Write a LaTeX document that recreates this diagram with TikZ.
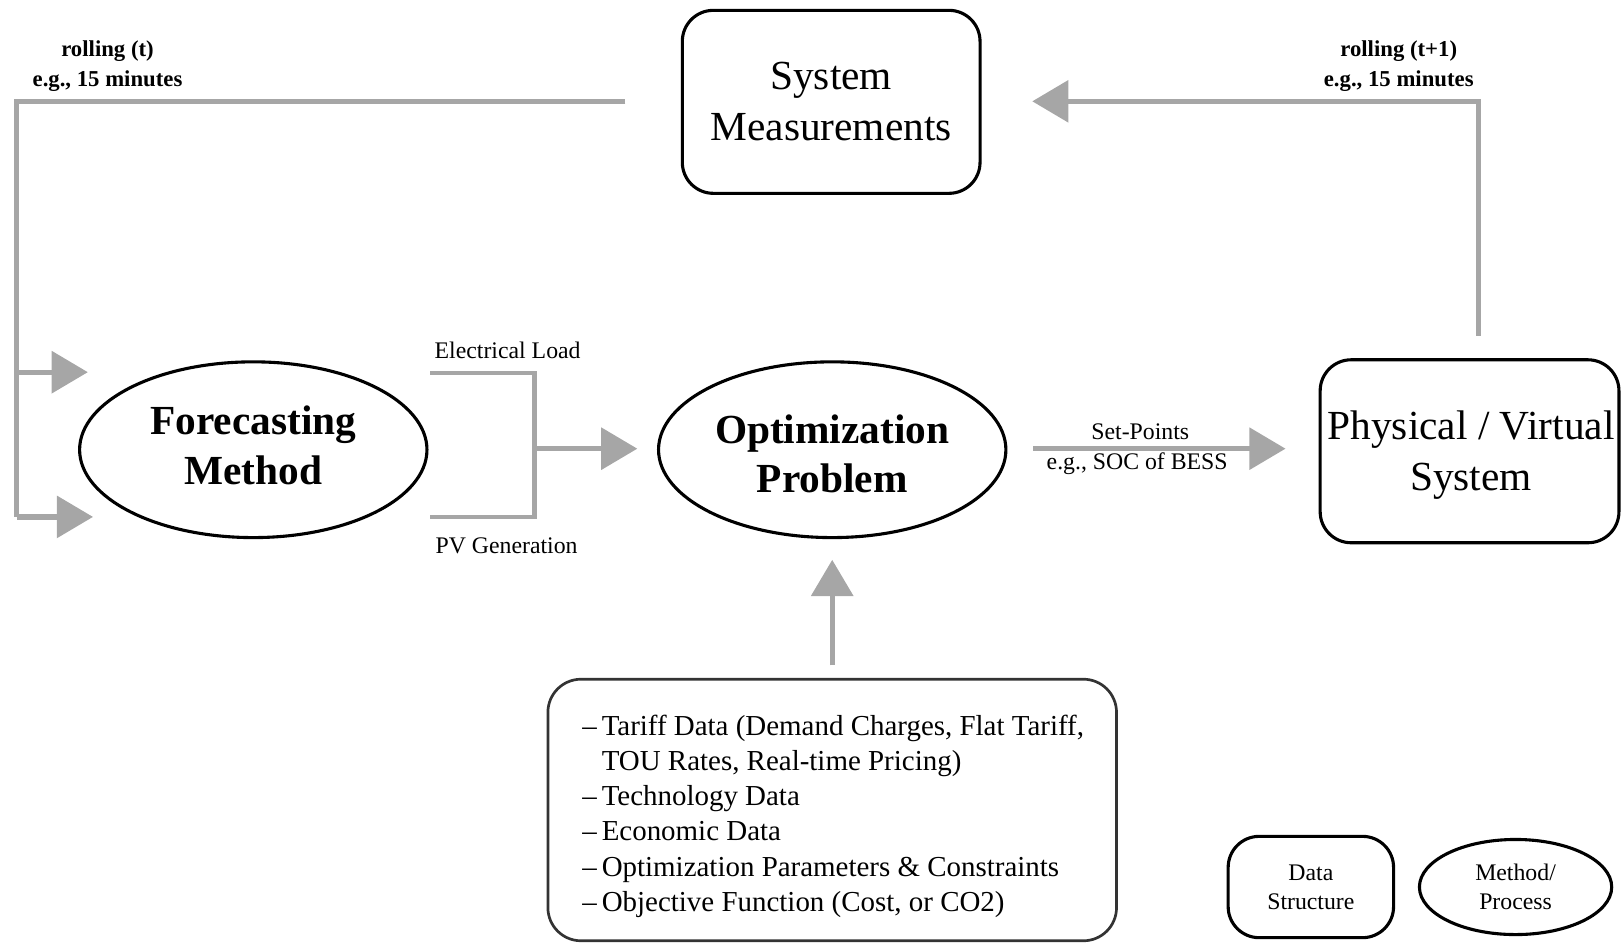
\documentclass[tikz,border=0pt]{standalone}
\usepackage{fontspec}
\setmainfont{Liberation Serif}
\usetikzlibrary{arrows.meta,shapes.geometric}
\definecolor{lineg}{RGB}{166,166,166}
\begin{document}
\begin{tikzpicture}[x=0.5pt,y=-0.5pt,
  gline/.style={draw=lineg,line width=2.5pt},
  thinline/.style={draw=lineg,line width=2pt},
  garrow/.style={gline,-{Triangle[length=17.5pt,width=20pt]}},
  databox/.style={draw,rounded corners=15pt,line width=1.5pt,align=center,inner sep=0pt},
  procell/.style={draw,ellipse,line width=1.5pt,align=center,inner sep=0pt},
  bigtext/.style={font=\fontsize{20pt}{24.5pt}\selectfont},
  bigbold/.style={font=\fontsize{20pt}{24pt}\selectfont\bfseries},
  smalltext/.style={font=\fontsize{11.5pt}{14pt}\selectfont,inner sep=0pt},
  rolltext/.style={font=\fontsize{11pt}{14.5pt}\selectfont\bfseries,align=center,inner sep=0pt},
  listtext/.style={font=\fontsize{14pt}{17pt}\selectfont,align=left,inner sep=0pt}
]
\useasboundingbox (0,0) rectangle (1568,912);

% main nodes
\node[databox,bigtext,minimum width=144pt,minimum height=88.5pt] (sm) at (804,98.5) {System\\Measurements};
\node[procell,minimum width=168pt,minimum height=85pt] (fm) at (245,435) {};
\node[bigbold,align=center,inner sep=0pt] (fmtext) at (245,431) {Forecasting\\Method};
\node[procell,minimum width=168pt,minimum height=85pt] (op) at (805,435) {};
\node[bigbold,align=center,inner sep=0pt] (optext) at (805,439) {Optimization\\Problem};
\node[databox,minimum width=144.5pt,minimum height=88.5pt] (ps) at (1421.5,436.5) {};
\node[bigtext,align=center,inner sep=0pt] (pstext) at (1423,440) {Physical / Virtual\\System};
\node[draw=black!80,rounded corners=16pt,line width=1.3pt,minimum width=275pt,minimum height=126.5pt,inner sep=0pt] (data) at (805,783.5) {};
\node[listtext] (datatext) at (806,789.5)
 {–\,Tariff Data (Demand Charges, Flat Tariff,\\
  \hphantom{–\,}TOU Rates, Real-time Pricing)\\
  –\,Technology Data\\
  –\,Economic Data\\
  –\,Optimization Parameters \& Constraints\\
  –\,Objective Function (Cost, or CO2)};

% legend
\node[databox,smalltext,minimum width=80pt,minimum height=49pt] (lgd) at (1268,858) {Data\\Structure};
\node[procell,smalltext,align=center,minimum width=93pt,minimum height=46pt] (lgp) at (1466,858) {Method/\\Process};

% labels
\node[rolltext] (rl) at (104,64) {rolling (t)\\e.g., 15 minutes};
\node[rolltext] (rr) at (1353,64) {rolling (t+1)\\e.g., 15 minutes};
\node[smalltext] (el) at (491,339) {Electrical Load};
\node[smalltext] (pv) at (490,528) {PV Generation};
\node[smalltext] (sp) at (1103,418) {Set-Points};
\node[smalltext] (soc) at (1100,449) {e.g., SOC of BESS};

% coordinates
\coordinate (ls) at (605,98);
\coordinate (lc) at (16,98);
\coordinate (lb1) at (16,360);
\coordinate (lb2) at (16,500);
\coordinate (fa1) at (85,360);
\coordinate (fa2) at (90,500);
\coordinate (bt) at (416,361);
\coordinate (bb) at (416,500);
\coordinate (bm) at (517,434);
\coordinate (rs) at (1430,325);
\coordinate (rc) at (1430,98);

% connectors
\draw[gline] (ls) -- (lc) -- (lb2);
\draw[garrow] (lb1) -- (fa1);
\draw[garrow] (lb2) -- (fa2);
\draw[thinline] (bt) -| (bm) |- (bb);
\draw[garrow] (bm) -- ([xshift=-9.5pt]op.west |- bm);
\draw[garrow] ([xshift=12.5pt]op.east |- bm) -- ([xshift=-16pt]ps.west |- bm);
\draw[garrow] (rs) -- (rc) -- ([xshift=24.5pt]sm.east |- rc);
\draw[garrow] ([yshift=6pt]data.north) -- ([yshift=-10pt]op.south);
\end{tikzpicture}
\end{document}
